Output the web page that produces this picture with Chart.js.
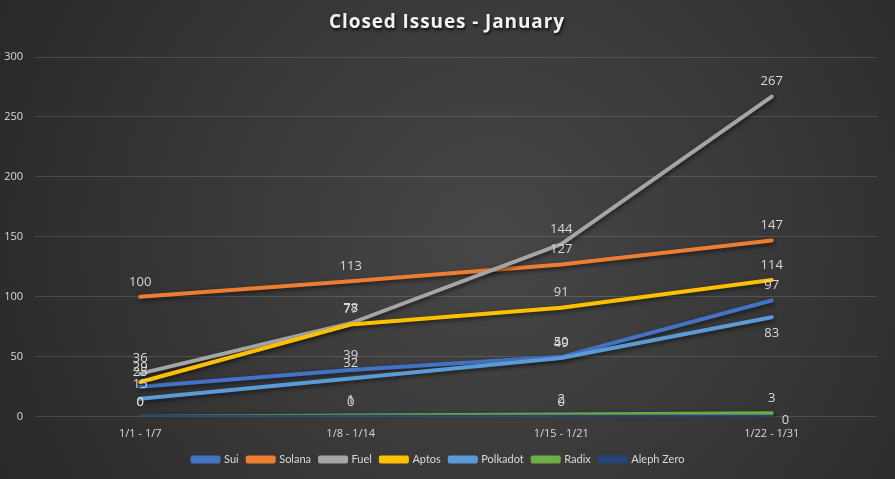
<!DOCTYPE html>
<html>
<head>
<meta charset="utf-8">
<script src="https://cdn.jsdelivr.net/npm/chart.js@4/dist/chart.umd.min.js"></script>
<style>
html,body{margin:0;padding:0;background:#333;}
#wrap{width:895px;height:479px;position:relative;}
</style>
</head>
<body>
<div id="wrap"><canvas id="c" width="895" height="479"></canvas></div>
<script>
const categories = ["1/1 - 1/7", "1/8 - 1/14", "1/15 - 1/21", "1/22 - 1/31"];
const sui = [25, 39, 50, 97];
const solana = [100, 113, 127, 147];
const fuel = [36, 78, 144, 267];
const aptos = [29, 77, 91, 114];
const polkadot = [15, 32, 49, 83];
const radix = [0, 1, 2, 3];
const alephZero = [0, 0, 0, 0];
const seriesNames = ["Sui", "Solana", "Fuel", "Aptos", "Polkadot", "Radix", "Aleph Zero"];
const seriesColors = ["#4472C4", "#ED7D31", "#A5A5A5", "#FFC000", "#5B9BD5", "#70AD47", "#264478"];
const seriesValues = [sui, solana, fuel, aptos, polkadot, radix, alephZero];
const yTicks = [0, 50, 100, 150, 200, 250, 300];
const titleText = "Closed Issues - January";

const bgPlugin = {
  id: 'bg',
  beforeDraw(chart) {
    const ctx = chart.ctx, w = chart.width, h = chart.height;
    ctx.save();
    const g = ctx.createRadialGradient(w * 0.55, h * 0.5, 20, w * 0.55, h * 0.5, w * 0.65);
    g.addColorStop(0, '#464646');
    g.addColorStop(1, '#272727');
    ctx.fillStyle = g;
    ctx.fillRect(0, 0, w, h);
    ctx.restore();
  },
  afterDraw(chart) {
    const ctx = chart.ctx;
    ctx.save();
    ctx.font = 'bold 19px "Open Sans", sans-serif';
    ctx.textAlign = 'center';
    ctx.textBaseline = 'middle';
    ctx.shadowColor = 'rgba(0,0,0,0.8)';
    ctx.shadowBlur = 3;
    ctx.shadowOffsetX = 1;
    ctx.shadowOffsetY = 2;
    ctx.fillStyle = '#f2f2f2';
    if (ctx.letterSpacing !== undefined) ctx.letterSpacing = '0.9px';
    ctx.fillText(titleText, 447, 23);
    ctx.restore();
  }
};

const shadowPlugin = {
  id: 'lineShadow',
  beforeDatasetDraw(chart) {
    const ctx = chart.ctx;
    ctx.save();
    ctx.shadowColor = 'rgba(0,0,0,0.55)';
    ctx.shadowBlur = 4;
    ctx.shadowOffsetX = 1;
    ctx.shadowOffsetY = 2;
  },
  afterDatasetDraw(chart) {
    chart.ctx.restore();
  }
};

const labelPlugin = {
  id: 'dataLabels',
  afterDatasetsDraw(chart) {
    const ctx = chart.ctx;
    ctx.save();
    ctx.font = '13px "Open Sans", sans-serif';
    ctx.fillStyle = '#d9d9d9';
    ctx.textBaseline = 'middle';
    chart.data.datasets.forEach((ds, di) => {
      const meta = chart.getDatasetMeta(di);
      meta.data.forEach((pt, i) => {
        let x = pt.x, y = pt.y - 15;
        ctx.textAlign = 'center';
        if (di === 4 && i === 3) { y = pt.y + 16; }
        if (di === 6 && i === 3) { x = pt.x + 10; y = pt.y + 3; ctx.textAlign = 'left'; }
        ctx.fillText(String(ds.data[i]), x, y);
      });
    });
    ctx.restore();
  }
};

const datasets = seriesNames.map((name, i) => ({
  label: name,
  data: seriesValues[i],
  borderColor: seriesColors[i],
  backgroundColor: seriesColors[i],
  borderWidth: 4,
  pointRadius: 0,
  pointHoverRadius: 0,
  tension: 0,
  borderCapStyle: 'round',
  borderJoinStyle: 'round',
  order: -i
}));

new Chart(document.getElementById('c'), {
  type: 'line',
  data: { labels: categories, datasets },
  plugins: [bgPlugin, shadowPlugin, labelPlugin],
  options: {
    responsive: false,
    animation: false,
    devicePixelRatio: 1,
    layout: { padding: { top: 57, right: 18, left: 0, bottom: 4 } },
    plugins: {
      title: { display: false },
      tooltip: { enabled: false },
      legend: {
        position: 'bottom',
        labels: {
          sort: (a, b) => a.datasetIndex - b.datasetIndex,
          color: '#d9d9d9',
          font: { size: 11, family: 'Lato, sans-serif' },
          boxWidth: 26,
          boxHeight: 4,
          padding: 9
        }
      }
    },
    scales: {
      x: {
        offset: true,
        afterFit(scale) { scale.height -= 5; },
        grid: { display: false, drawTicks: false },
        border: { display: false },
        ticks: { color: '#d9d9d9', font: { size: 11, family: '"Open Sans", sans-serif' }, padding: 10, maxRotation: 0 }
      },
      y: {
        min: 0, max: 300,
        afterBuildTicks(scale) { scale.ticks = yTicks.map(v => ({ value: v })); },
        afterFit(scale) { scale.width = 35; },
        grid: { color: 'rgba(255,255,255,0.14)', lineWidth: 1, drawTicks: false },
        border: { display: false },
        ticks: { color: '#d9d9d9', font: { size: 11, family: '"Open Sans", sans-serif' }, padding: 12 }
      }
    }
  }
});
</script>
</body>
</html>
